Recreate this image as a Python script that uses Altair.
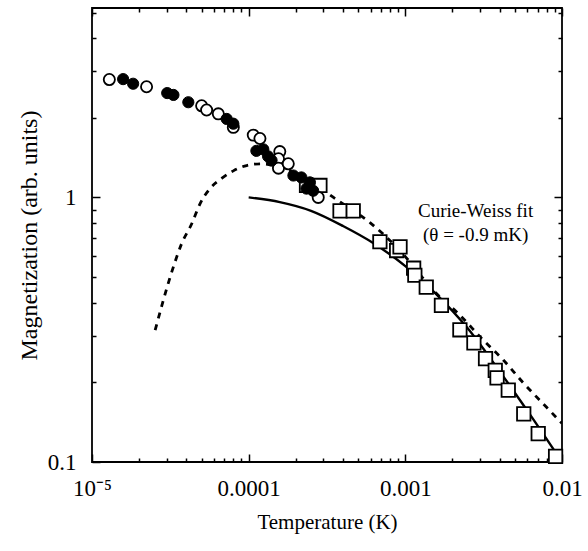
import altair as alt
import pandas as pd

# ---------------- data ----------------
open_circle_T = [1.29e-5, 2.23e-5, 5.01e-5, 5.39e-5, 6.40e-5, 7.98e-5, 1.07e-4, 1.18e-4,
                 1.58e-4, 1.55e-4, 1.55e-4, 1.79e-4, 2.78e-4]
open_circle_M = [2.79, 2.62, 2.22, 2.14, 2.07, 1.84, 1.72, 1.67,
                 1.49, 1.40, 1.29, 1.34, 1.00]

filled_circle_T = [1.58e-5, 1.83e-5, 3.02e-5, 3.31e-5, 4.12e-5, 7.24e-5, 7.98e-5,
                   1.12e-4, 1.24e-4, 1.33e-4, 1.40e-4, 1.93e-4, 2.17e-4, 2.46e-4,
                   2.34e-4, 2.58e-4]
filled_circle_M = [2.80, 2.69, 2.48, 2.44, 2.29, 1.98, 1.90,
                   1.50, 1.52, 1.43, 1.38, 1.21, 1.19, 1.14,
                   1.08, 1.06]

square_T = [2.34e-4, 2.85e-4, 3.83e-4, 4.65e-4, 6.88e-4, 8.8e-4, 9.25e-4, 1.13e-3,
            1.15e-3, 1.36e-3, 1.70e-3, 2.23e-3, 2.74e-3, 3.25e-3, 3.75e-3, 3.85e-3,
            4.54e-3, 5.7e-3, 7.05e-3, 9.1e-3]
square_M = [1.11, 1.11, 0.89, 0.89, 0.68, 0.63, 0.65, 0.54,
            0.508, 0.458, 0.391, 0.316, 0.282, 0.246, 0.222, 0.208,
            0.187, 0.152, 0.128, 0.105]

dashed_T = [2.53e-5, 3.23e-5, 3.73e-5, 4.33e-5, 4.89e-5, 5.66e-5, 6.72e-5, 7.98e-5,
            9.71e-5, 1.2e-4, 1.6e-4, 2.2e-4, 3.7e-4, 6.0e-4, 9.0e-4, 1.58e-3,
            2.23e-3, 3.07e-3, 4.22e-3, 5.71e-3, 7.89e-3, 1.0e-2]
dashed_M = [0.315, 0.523, 0.668, 0.795, 0.946, 1.08, 1.18, 1.26,
            1.32, 1.34, 1.30, 1.20, 0.975, 0.80, 0.64, 0.433,
            0.359, 0.293, 0.243, 0.198, 0.162, 0.14]

fit_T = [1.0e-4, 1.58e-4, 2.5e-4, 4.0e-4, 6.3e-4, 1.0e-3, 1.58e-3, 2.5e-3,
         4.0e-3, 6.3e-3, 1.0e-2]
fit_M = [1.0, 0.96, 0.89, 0.78, 0.67, 0.55, 0.43, 0.32,
         0.22, 0.15, 0.10]

note_lines = ["Curie-Weiss fit", "(\u03b8 = -0.9 mK)"]
note_T = [2.81e-3, 2.81e-3]
note_M = [0.847, 0.683]

x_major = [1e-5, 1e-4, 1e-3, 1e-2]
x_major_labels = ["10\u207b\u2075", "0.0001", "0.001", "0.01"]
x_minor = [2e-5, 3e-5, 4e-5, 5e-5, 6e-5, 7e-5, 8e-5, 9e-5,
           2e-4, 3e-4, 4e-4, 5e-4, 6e-4, 7e-4, 8e-4, 9e-4,
           2e-3, 3e-3, 4e-3, 5e-3, 6e-3, 7e-3, 8e-3, 9e-3]
y_major = [0.1, 1.0]
y_major_labels = ["0.1", "1"]
y_minor = [0.2, 0.3, 0.4, 0.5, 0.6, 0.7, 0.8, 0.9, 2.0, 3.0, 4.0, 5.0]

X_DOMAIN = [1e-5, 1e-2]
Y_DOMAIN = [0.1, 5.2]

# ---------------- layout ----------------
W, H = 470, 454
FONT = "Liberation Serif"


def label_expr(values, labels):
    expr = "'" + labels[-1] + "'"
    for v, lab in reversed(list(zip(values[:-1], labels[:-1]))):
        expr = f"datum.value < {v * 3} ? '{lab}' : " + expr
    return expr


def xscale():
    return alt.Scale(type="log", domain=X_DOMAIN, nice=False)


def yscale():
    return alt.Scale(type="log", domain=Y_DOMAIN, nice=False)


def tick_axis(orient, offset, values, size):
    return alt.Axis(orient=orient, offset=offset, values=values, labels=False,
                    domain=False, grid=False, ticks=True, tickSize=size,
                    tickWidth=1.5, tickColor="black", title=None)


x_label_axis = alt.Axis(
    orient="bottom", values=x_major, labelExpr=label_expr(x_major, x_major_labels),
    ticks=False, tickSize=0, domain=False, grid=False,
    labelFont=FONT, labelFontSize=23, labelColor="black", labelPadding=15,
    labelFlush=False, labelOverlap=False,
    title="Temperature (K)", titleFont=FONT, titleFontSize=21,
    titleFontWeight="normal", titleColor="black",
    titleX=W / 2, titleY=66, titleBaseline="alphabetic", titleAlign="center")

y_label_axis = alt.Axis(
    orient="left", values=y_major, labelExpr=label_expr(y_major, y_major_labels),
    ticks=False, tickSize=0, domain=False, grid=False,
    labelFont=FONT, labelFontSize=23, labelColor="black", labelPadding=16,
    labelFlush=False, labelOverlap=False,
    title="Magnetization (arb. units)", titleFont=FONT, titleFontSize=24,
    titleFontWeight="normal", titleColor="black", titleAngle=270,
    titleX=-56, titleY=H / 2, titleBaseline="alphabetic", titleAlign="center")

fit_df = pd.DataFrame({"T": fit_T, "M": fit_M})
dash_df = pd.DataFrame({"T": dashed_T, "M": dashed_M})
sq_df = pd.DataFrame({"T": square_T, "M": square_M})
oc_df = pd.DataFrame({"T": open_circle_T, "M": open_circle_M})
fc_df = pd.DataFrame({"T": filled_circle_T, "M": filled_circle_M})
note_df = pd.DataFrame({"T": note_T, "M": note_M, "txt": note_lines})

fit = alt.Chart(fit_df).mark_line(
    color="black", strokeWidth=2.4, interpolate="monotone", clip=True
).encode(
    x=alt.X("T:Q", scale=xscale(), axis=x_label_axis),
    y=alt.Y("M:Q", scale=yscale(), axis=y_label_axis),
    order="T:Q",
)

dashed = alt.Chart(dash_df).mark_line(
    color="black", strokeWidth=2.8, strokeDash=[6, 6], interpolate="monotone", clip=True
).encode(
    x=alt.X("T:Q", scale=xscale(), axis=tick_axis("top", -H, x_major, 8)),
    y=alt.Y("M:Q", scale=yscale(), axis=tick_axis("right", -W, y_major, 8)),
    order="T:Q",
)

squares = alt.Chart(sq_df).mark_point(
    shape="square", size=180, filled=True, fill="white", stroke="black",
    strokeWidth=1.8, opacity=1
).encode(
    x=alt.X("T:Q", scale=xscale(), axis=tick_axis("top", -H, x_minor, 4)),
    y=alt.Y("M:Q", scale=yscale(), axis=tick_axis("right", -W, y_minor, 4)),
)

open_c = alt.Chart(oc_df).mark_point(
    shape="circle", size=125, filled=True, fill="white", stroke="black",
    strokeWidth=1.8, opacity=1
).encode(
    x=alt.X("T:Q", scale=xscale(), axis=tick_axis("bottom", -H, x_major, 8)),
    y=alt.Y("M:Q", scale=yscale(), axis=tick_axis("left", -W, y_major, 8)),
)

filled_c = alt.Chart(fc_df).mark_point(
    shape="circle", size=125, filled=True, fill="black", stroke="black",
    strokeWidth=1, opacity=1
).encode(
    x=alt.X("T:Q", scale=xscale(), axis=tick_axis("bottom", -H, x_minor, 4)),
    y=alt.Y("M:Q", scale=yscale(), axis=tick_axis("left", -W, y_minor, 4)),
)

note = alt.Chart(note_df).mark_text(
    font=FONT, fontSize=19, color="black", align="center", baseline="alphabetic"
).encode(
    x=alt.X("T:Q", scale=xscale(), axis=None),
    y=alt.Y("M:Q", scale=yscale(), axis=None),
    text="txt:N",
)

chart = alt.layer(
    fit, dashed, squares, open_c, filled_c, note
).resolve_axis(
    x="independent", y="independent"
).properties(
    width=W, height=H,
    autosize=alt.AutoSizeParams(type="none"),
    padding={"left": 92, "top": 8, "right": 26, "bottom": 89},
    background="white",
).configure_view(
    stroke="black", strokeWidth=1.8
)

chart.save("out.html", embed_options={"renderer": "svg", "actions": False})
